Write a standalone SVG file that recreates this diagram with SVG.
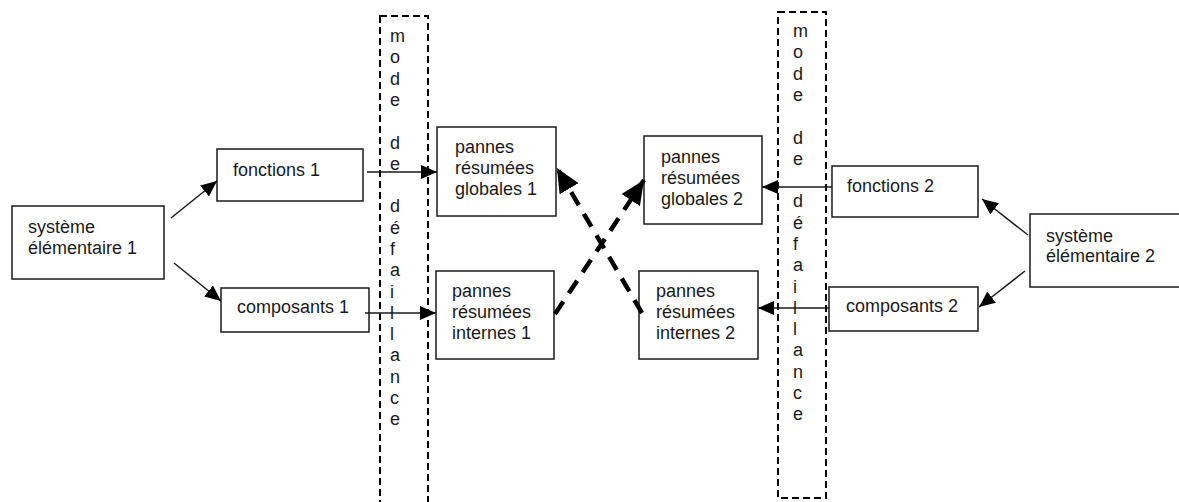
<svg xmlns="http://www.w3.org/2000/svg" width="1179" height="502" viewBox="0 0 1179 502">
<style>
text{font-family:"Liberation Sans",Arial,sans-serif;font-size:18px;fill:#1a1a1a}
.box{fill:#fff;stroke:#1a1a1a;stroke-width:1.5}
.band{fill:none;stroke:#000;stroke-width:2;stroke-dasharray:7 4}
.thin{stroke:#1a1a1a;stroke-width:1.5;fill:none;marker-end:url(#ah)}
.thick{stroke:#000;stroke-width:4.5;fill:none;stroke-dasharray:15 10;marker-end:url(#ahb)}
</style>
<defs>
<marker id="ah" markerUnits="userSpaceOnUse" markerWidth="18" markerHeight="14" refX="16" refY="7" orient="auto">
<path d="M0,0 L16,7 L0,14 Z" fill="#000"/>
</marker>
<marker id="ahb" markerUnits="userSpaceOnUse" markerWidth="26" markerHeight="22" refX="24" refY="11" orient="auto">
<path d="M0,0 L24,11 L0,22 Z" fill="#000"/>
</marker>
</defs>
<rect width="1179" height="502" fill="#fff"/>
<g id="band1">
<rect class="band" x="380" y="16" width="48" height="500"/>
<text x="390" y="42"><tspan x="390">m</tspan><tspan x="390" dy="21.3">o</tspan><tspan x="390" dy="21.3">d</tspan><tspan x="390" dy="21.3">e</tspan><tspan x="390" dy="42.6">d</tspan><tspan x="390" dy="21.3">e</tspan><tspan x="390" dy="42.6">d</tspan><tspan x="390" dy="21.3">é</tspan><tspan x="390" dy="21.3">f</tspan><tspan x="390" dy="21.3">a</tspan><tspan x="390" dy="21.3">i</tspan><tspan x="390" dy="21.3">l</tspan><tspan x="390" dy="21.3">l</tspan><tspan x="390" dy="21.3">a</tspan><tspan x="390" dy="21.3">n</tspan><tspan x="390" dy="21.3">c</tspan><tspan x="390" dy="21.3">e</tspan></text>
</g>
<g id="band2">
<rect class="band" x="778" y="12" width="48" height="486"/>
<text x="793" y="37"><tspan x="793">m</tspan><tspan x="793" dy="21.3">o</tspan><tspan x="793" dy="21.3">d</tspan><tspan x="793" dy="21.3">e</tspan><tspan x="793" dy="42.6">d</tspan><tspan x="793" dy="21.3">e</tspan><tspan x="793" dy="42.6">d</tspan><tspan x="793" dy="21.3">é</tspan><tspan x="793" dy="21.3">f</tspan><tspan x="793" dy="21.3">a</tspan><tspan x="793" dy="21.3">i</tspan><tspan x="793" dy="21.3">l</tspan><tspan x="793" dy="21.3">l</tspan><tspan x="793" dy="21.3">a</tspan><tspan x="793" dy="21.3">n</tspan><tspan x="793" dy="21.3">c</tspan><tspan x="793" dy="21.3">e</tspan></text>
</g>
<g id="sys1">
<rect class="box" x="12" y="206" width="152" height="73"/>
<text x="28" y="233">système</text>
<text x="28" y="254">élémentaire 1</text>
</g>
<g id="fonctions1">
<rect class="box" x="217" y="149" width="146" height="52"/>
<text x="233" y="176">fonctions 1</text>
</g>
<g id="composants1">
<rect class="box" x="221" y="288" width="148" height="44"/>
<text x="237" y="313">composants 1</text>
</g>
<g id="globales1">
<rect class="box" x="437" y="127" width="119" height="89"/>
<text x="455" y="153">pannes</text>
<text x="455" y="174">résumées</text>
<text x="455" y="195">globales 1</text>
</g>
<g id="internes1">
<rect class="box" x="436" y="271" width="118" height="88"/>
<text x="452" y="297">pannes</text>
<text x="452" y="318">résumées</text>
<text x="452" y="339">internes 1</text>
</g>
<g id="globales2">
<rect class="box" x="644" y="136" width="118" height="88"/>
<text x="661" y="163">pannes</text>
<text x="661" y="184">résumées</text>
<text x="661" y="205">globales 2</text>
</g>
<g id="internes2">
<rect class="box" x="639" y="271" width="119" height="88"/>
<text x="656" y="297">pannes</text>
<text x="656" y="318">résumées</text>
<text x="656" y="339">internes 2</text>
</g>
<g id="fonctions2">
<rect class="box" x="832" y="166" width="146" height="51"/>
<text x="847" y="192">fonctions 2</text>
</g>
<g id="composants2">
<rect class="box" x="829" y="287" width="149" height="44"/>
<text x="846" y="312">composants 2</text>
</g>
<g id="sys2">
<rect class="box" x="1030" y="214" width="160" height="73"/>
<text x="1046" y="242">système</text>
<text x="1046" y="262">élémentaire 2</text>
</g>
<g id="connectors">
<line class="thin" x1="171" y1="218" x2="217" y2="181"/>
<line class="thin" x1="174" y1="263" x2="221" y2="301"/>
<line class="thin" x1="367" y1="172" x2="437" y2="172"/>
<line class="thin" x1="365" y1="313" x2="436" y2="313"/>
<line class="thin" x1="832" y1="187" x2="762" y2="187"/>
<line class="thin" x1="829" y1="308" x2="758" y2="308"/>
<line class="thin" x1="1028" y1="235" x2="982" y2="199"/>
<line class="thin" x1="1025" y1="271" x2="979" y2="307"/>
<line class="thick" x1="555" y1="314" x2="644" y2="180"/>
<line class="thick" x1="642" y1="313" x2="557" y2="168"/>
</g>
</svg>
